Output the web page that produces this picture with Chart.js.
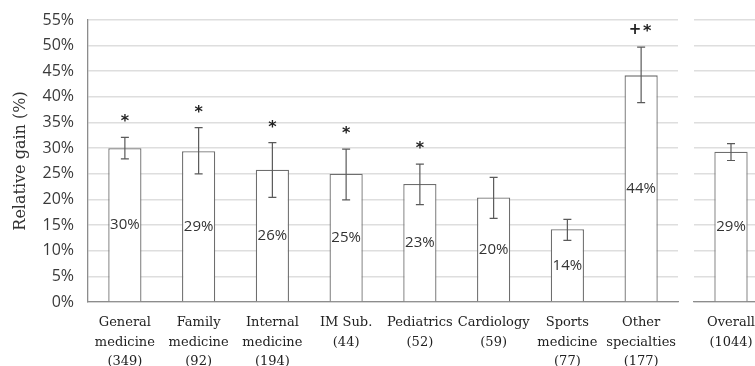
<!DOCTYPE html>
<html><head><meta charset="utf-8">
<script src="https://cdn.jsdelivr.net/npm/chart.js@4.4.0/dist/chart.umd.min.js"></script>
<style>
html,body{margin:0;padding:0;background:#fff;overflow:hidden;width:755px;height:366px;}
#c1{position:absolute;left:0;top:0;}
#c2{position:absolute;left:680px;top:0;}
</style></head><body>
<canvas id="c1" width="692" height="366"></canvas>
<canvas id="c2" width="88" height="366"></canvas>
<script>
// ---- data ----
const categories = [
  ["General","medicine","(349)"],
  ["Family","medicine","(92)"],
  ["Internal","medicine","(194)"],
  ["IM Sub.","(44)"],
  ["Pediatrics","(52)"],
  ["Cardiology","(59)"],
  ["Sports","medicine","(77)"],
  ["Other","specialties","(177)"]
];
const gains   = [30.0, 29.4, 25.8, 25.0, 23.0, 20.4, 14.2, 44.2];
const errLow  = [27.9, 25.0, 20.4, 19.9, 19.0, 16.3, 12.0, 38.9];
const errHigh = [32.1, 34.0, 31.1, 29.8, 26.9, 24.3, 16.1, 49.7];
const marks   = ["*", "*", "*", "*", "*", "", "", "+*"];

const overallCategory = [["Overall","(1044)"]];
const overallGain  = [29.3];
const overallLow   = [27.6];
const overallHigh  = [30.9];
const overallMarks = [""];

const yTicks = [0, 5, 10, 15, 20, 25, 30, 35, 40, 45, 50, 55];

// ---- overlay plugin: value labels, error bars, significance marks ----
const overlay = {
  id: 'overlay',
  afterDatasetsDraw(chart, args, opts) {
    const ctx = chart.ctx, y = chart.scales.y;
    const meta = chart.getDatasetMeta(0);
    ctx.save();
    opts.values.forEach((v, i) => {
      const cx = meta.data[i].x;
      ctx.fillStyle = '#333';
      ctx.font = '15px "Open Sans"';
      ctx.textAlign = 'center';
      ctx.textBaseline = 'middle';
      ctx.fillText(Math.round(v) + '%', cx, y.getPixelForValue(v / 2));
      const yl = y.getPixelForValue(opts.lo[i]), yh = y.getPixelForValue(opts.hi[i]);
      ctx.strokeStyle = '#5a5a5a';
      ctx.lineWidth = 1.2;
      ctx.beginPath();
      ctx.moveTo(cx, yl); ctx.lineTo(cx, yh);
      ctx.moveTo(cx - 4, yl); ctx.lineTo(cx + 4, yl);
      ctx.moveTo(cx - 4, yh); ctx.lineTo(cx + 4, yh);
      ctx.stroke();
      const m = opts.marks[i];
      if (m) {
        ctx.fillStyle = '#222';
        ctx.textBaseline = 'alphabetic';
        const chars = m.split('');
        const step = 12;
        chars.forEach((c, k) => {
          const x = cx + (k - (chars.length - 1) / 2) * step;
          if (c === '*') {
            ctx.font = 'bold 16px "DejaVu Sans"';
            ctx.fillText(c, x, yh - 11);
          } else {
            ctx.font = 'bold 15px "DejaVu Sans"';
            ctx.fillText(c, x, yh - 13);
          }
        });
      }
    });
    ctx.restore();
  }
};

const gridColor = '#dedede';
const axisColor = '#8c8c8c';

function makeChart(id, labels, values, lo, hi, mk, showY) {
  return new Chart(document.getElementById(id), {
    type: 'bar',
    data: {
      labels: labels,
      datasets: [{
        data: values,
        backgroundColor: '#ffffff',
        borderColor: '#6e6e6e',
        borderWidth: 1.3,
        categoryPercentage: 1.0,
        barPercentage: 0.45
      }]
    },
    options: {
      responsive: false,
      animation: false,
      devicePixelRatio: 1,
      layout: { padding: { top: 20, left: showY ? 0 : 14, right: showY ? 14 : 0, bottom: 0 } },
      plugins: {
        legend: { display: false },
        tooltip: { enabled: false },
        overlay: { values: values, lo: lo, hi: hi, marks: mk }
      },
      scales: {
        x: {
          grid: { display: false, drawTicks: false },
          border: { display: true, color: axisColor, width: 1.3 },
          ticks: {
            autoSkip: false, maxRotation: 0, minRotation: 0,
            padding: 11,
            color: '#222',
            font: { family: '"DejaVu Serif"', size: 13, lineHeight: 1.5 }
          },
          afterFit(s) { s.height = 64; }
        },
        y: {
          min: 0, max: 55,
          afterBuildTicks(s) { s.ticks = yTicks.map(v => ({ value: v })); },
          grid: { color: gridColor, lineWidth: 1.6, drawTicks: showY, tickLength: 12, tickColor: 'rgba(0,0,0,0)' },
          border: { display: showY, color: axisColor, width: 1.3 },
          ticks: {
            display: showY,
            padding: 2,
            color: '#3a3a3a',
            font: { family: '"Open Sans"', size: 16 },
            callback: v => v + '%'
          },
          title: {
            display: showY,
            text: 'Relative gain (%)',
            color: '#333',
            font: { family: '"DejaVu Serif"', size: 16 },
            padding: { top: 11, bottom: 0 }
          },
          afterFit(s) { s.width = showY ? 88 : 0; }
        }
      }
    },
    plugins: [overlay]
  });
}

makeChart('c1', categories, gains, errLow, errHigh, marks, true);
makeChart('c2', overallCategory, overallGain, overallLow, overallHigh, overallMarks, false);
</script>
</body></html>
